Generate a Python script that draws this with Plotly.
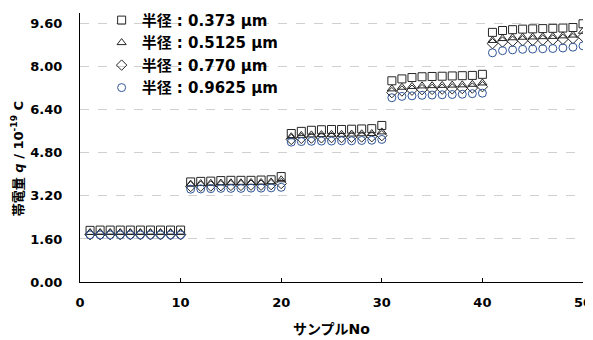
import plotly.graph_objects as go

sample_no = list(range(1, 51))

r0373 = [1.92, 1.93, 1.93, 1.93, 1.93, 1.93, 1.93, 1.93, 1.93, 1.93,
         3.72, 3.74, 3.75, 3.77, 3.78, 3.78, 3.78, 3.79, 3.80, 3.92,
         5.52, 5.60, 5.64, 5.66, 5.67, 5.67, 5.68, 5.69, 5.70, 5.82,
         7.48, 7.55, 7.60, 7.63, 7.64, 7.65, 7.66, 7.67, 7.68, 7.72,
         9.28, 9.35, 9.38, 9.40, 9.41, 9.42, 9.43, 9.44, 9.46, 9.60]
r05125 = [1.84, 1.84, 1.84, 1.84, 1.84, 1.84, 1.84, 1.84, 1.84, 1.84,
          3.64, 3.66, 3.67, 3.68, 3.69, 3.69, 3.70, 3.70, 3.72, 3.80,
          5.40, 5.45, 5.47, 5.48, 5.49, 5.49, 5.50, 5.51, 5.52, 5.58,
          7.18, 7.24, 7.27, 7.29, 7.30, 7.31, 7.32, 7.33, 7.35, 7.40,
          8.98, 9.05, 9.08, 9.10, 9.11, 9.12, 9.13, 9.15, 9.18, 9.32]
r0770 = [1.76, 1.76, 1.76, 1.76, 1.76, 1.76, 1.76, 1.76, 1.76, 1.76,
         3.55, 3.56, 3.57, 3.58, 3.59, 3.59, 3.60, 3.60, 3.62, 3.66,
         5.30, 5.34, 5.35, 5.36, 5.37, 5.37, 5.38, 5.39, 5.40, 5.44,
         7.04, 7.10, 7.13, 7.15, 7.16, 7.17, 7.18, 7.19, 7.21, 7.26,
         8.86, 8.92, 8.95, 8.97, 8.98, 8.99, 9.00, 9.02, 9.05, 9.12]
r09625 = [1.75, 1.75, 1.75, 1.75, 1.75, 1.75, 1.75, 1.75, 1.75, 1.75,
          3.45, 3.46, 3.47, 3.48, 3.48, 3.48, 3.49, 3.49, 3.50, 3.52,
          5.20, 5.22, 5.23, 5.24, 5.24, 5.25, 5.25, 5.26, 5.27, 5.30,
          6.85, 6.90, 6.92, 6.94, 6.95, 6.96, 6.97, 6.98, 7.00, 7.02,
          8.52, 8.60, 8.63, 8.65, 8.66, 8.67, 8.68, 8.70, 8.73, 8.78]

series = [
    ("半径 : 0.373 μm", r0373, "square-open", "#262626"),
    ("半径 : 0.5125 μm", r05125, "triangle-up-open", "#262626"),
    ("半径 : 0.770 μm", r0770, "diamond-open", "#262626"),
    ("半径 : 0.9625 μm", r09625, "circle-open", "#2F5597"),
]

y_ticks = [0, 1.6, 3.2, 4.8, 6.4, 8.0, 9.6]
y_tick_text = ["0.00", "1.60", "3.20", "4.80", "6.40", "8.00", "9.60"]
x_ticks = [0, 10, 20, 30, 40, 50]
y_title = "帯電量 <i>q</i> / 10<sup>-19</sup> C"

FONT = "DejaVu Sans, Noto Sans CJK JP"
BOLD = dict(family=FONT, size=13, color="#000000", weight="bold")

fig = go.Figure()
for name, vals, sym, col in series:
    fig.add_trace(go.Scatter(
        x=sample_no, y=vals, mode="markers", name=name,
        marker=dict(symbol=sym, size=8, color=col, line=dict(color=col, width=1)),
    ))

fig.add_annotation(
    text=y_title, xref="paper", yref="paper", x=-0.125, y=0.457,
    xanchor="center", yanchor="middle", textangle=-90, showarrow=False,
    font=dict(size=13, family=FONT, weight="bold", color="#000000"),
)

fig.update_layout(
    width=585, height=332,
    margin=dict(l=72, r=10, t=5, b=58, autoexpand=False),
    paper_bgcolor="white", plot_bgcolor="white",
    font=dict(family=FONT, size=13, color="#000000"),
    showlegend=True,
    legend=dict(x=0.043, y=1.034, xanchor="left", yanchor="top",
                bgcolor="rgba(0,0,0,0)",
                font=dict(size=15, family=FONT, weight="bold", color="#000000"),
                tracegroupgap=0),
    xaxis=dict(range=[0, 50], tickvals=x_ticks, showgrid=False,
               showline=True, linecolor="#000000", linewidth=1,
               ticks="inside", ticklen=4, tickcolor="#000000",
               tickfont=BOLD, ticklabelstandoff=8, automargin=False,
               title=dict(text="サンプルNo", font=dict(size=14, family=FONT, weight="bold"), standoff=15),
               zeroline=False),
    yaxis=dict(range=[0, 10], tickvals=y_ticks, ticktext=y_tick_text,
               showgrid=True, gridcolor="#D0D0D0", griddash="dash", gridwidth=1,
               showline=True, linecolor="#000000", linewidth=1,
               ticks="", tickfont=BOLD, ticklabelstandoff=14, automargin=False,
               zeroline=False),
)

fig.write_html("out.html")
